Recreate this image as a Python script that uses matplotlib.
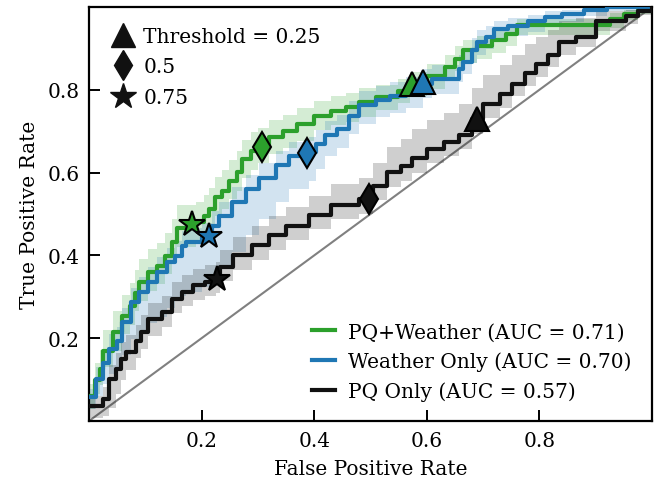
import numpy as np
import matplotlib
matplotlib.use("Agg")
import matplotlib.pyplot as plt
from matplotlib.lines import Line2D

# ROC curves (fpr, tpr vertices, drawn as steps)
green_fpr = [0.000, 0.010, 0.020, 0.025, 0.043, 0.058, 0.073, 0.082, 0.089, 0.105,
             0.121, 0.135, 0.148, 0.156, 0.190, 0.205, 0.213, 0.224, 0.236, 0.249,
             0.262, 0.272, 0.288, 0.300, 0.320, 0.345, 0.370, 0.400, 0.430, 0.456,
             0.480, 0.510, 0.549, 0.570, 0.600, 0.632, 0.650, 0.665, 0.690, 0.715,
             0.740, 0.760, 0.925, 0.950, 0.975, 1.000]
green_tpr = [0.060, 0.100, 0.126, 0.170, 0.215, 0.254, 0.278, 0.310, 0.336, 0.360,
             0.375, 0.399, 0.432, 0.466, 0.480, 0.495, 0.512, 0.540, 0.556, 0.580,
             0.601, 0.633, 0.652, 0.662, 0.686, 0.700, 0.717, 0.737, 0.749, 0.758,
             0.770, 0.782, 0.797, 0.814, 0.833, 0.855, 0.875, 0.895, 0.905, 0.920,
             0.935, 0.957, 0.970, 0.983, 0.993, 1.000]
green_lo = [0.030, 0.035, 0.040, 0.040, 0.045, 0.045, 0.045, 0.045, 0.045, 0.045,
            0.045, 0.045, 0.045, 0.045, 0.045, 0.045, 0.045, 0.045, 0.045, 0.045,
            0.045, 0.045, 0.045, 0.040, 0.040, 0.040, 0.040, 0.035, 0.035, 0.035,
            0.035, 0.030, 0.030, 0.030, 0.030, 0.030, 0.030, 0.030, 0.030, 0.030,
            0.030, 0.025, 0.020, 0.015, 0.010, 0.000]
green_hi = [0.030, 0.040, 0.045, 0.050, 0.050, 0.050, 0.055, 0.055, 0.055, 0.055,
            0.055, 0.055, 0.055, 0.055, 0.050, 0.050, 0.050, 0.050, 0.050, 0.050,
            0.050, 0.045, 0.045, 0.045, 0.040, 0.040, 0.040, 0.035, 0.035, 0.035,
            0.035, 0.030, 0.030, 0.030, 0.030, 0.030, 0.030, 0.025, 0.025, 0.025,
            0.020, 0.015, 0.015, 0.010, 0.005, 0.000]

blue_fpr = [0.000, 0.012, 0.025, 0.035, 0.050, 0.058, 0.075, 0.089, 0.105, 0.121,
            0.139, 0.153, 0.165, 0.172, 0.200, 0.218, 0.231, 0.254, 0.279, 0.302,
            0.332, 0.355, 0.390, 0.403, 0.420, 0.440, 0.462, 0.480, 0.510, 0.535,
            0.563, 0.593, 0.610, 0.657, 0.665, 0.680, 0.690, 0.705, 0.720, 0.745,
            0.780, 0.810, 0.840, 0.880, 0.920, 1.000]
blue_tpr = [0.058, 0.101, 0.140, 0.174, 0.193, 0.239, 0.287, 0.312, 0.336, 0.360,
            0.384, 0.399, 0.423, 0.432, 0.444, 0.471, 0.495, 0.529, 0.560, 0.587,
            0.618, 0.640, 0.650, 0.669, 0.690, 0.705, 0.737, 0.763, 0.775, 0.785,
            0.795, 0.815, 0.826, 0.850, 0.867, 0.895, 0.915, 0.928, 0.947, 0.954,
            0.965, 0.975, 0.983, 0.993, 1.000, 1.000]
blue_lo = [0.030, 0.040, 0.050, 0.060, 0.070, 0.080, 0.090, 0.100, 0.100, 0.110,
           0.110, 0.110, 0.120, 0.120, 0.120, 0.120, 0.120, 0.120, 0.110, 0.100,
           0.090, 0.080, 0.070, 0.060, 0.050, 0.045, 0.045, 0.045, 0.040, 0.040,
           0.040, 0.035, 0.035, 0.030, 0.030, 0.030, 0.030, 0.030, 0.030, 0.025,
           0.025, 0.020, 0.020, 0.015, 0.010, 0.000]
blue_hi = [0.020, 0.030, 0.030, 0.035, 0.035, 0.035, 0.035, 0.035, 0.035, 0.035,
           0.035, 0.035, 0.035, 0.035, 0.035, 0.035, 0.035, 0.035, 0.035, 0.035,
           0.035, 0.035, 0.035, 0.035, 0.035, 0.035, 0.035, 0.035, 0.035, 0.035,
           0.035, 0.035, 0.035, 0.035, 0.030, 0.030, 0.030, 0.025, 0.020, 0.020,
           0.015, 0.015, 0.010, 0.005, 0.000, 0.000]

black_fpr = [0.000, 0.024, 0.036, 0.048, 0.057, 0.066, 0.083, 0.092, 0.105, 0.130,
             0.147, 0.165, 0.185, 0.206, 0.225, 0.232, 0.255, 0.290, 0.320, 0.350,
             0.390, 0.430, 0.480, 0.505, 0.530, 0.555, 0.574, 0.600, 0.630, 0.657,
             0.680, 0.700, 0.730, 0.751, 0.775, 0.794, 0.815, 0.835, 0.865, 0.900,
             0.954, 0.975, 1.000]
black_tpr = [0.036, 0.053, 0.101, 0.125, 0.150, 0.167, 0.193, 0.215, 0.246, 0.263,
             0.295, 0.312, 0.328, 0.336, 0.345, 0.372, 0.400, 0.425, 0.449, 0.471,
             0.498, 0.522, 0.536, 0.568, 0.601, 0.615, 0.635, 0.657, 0.675, 0.691,
             0.729, 0.766, 0.790, 0.814, 0.840, 0.862, 0.885, 0.915, 0.928, 0.966,
             0.978, 0.990, 1.000]
black_lo = [0.030, 0.040, 0.070, 0.060, 0.050, 0.045, 0.040, 0.040, 0.040, 0.035,
            0.035, 0.035, 0.035, 0.035, 0.035, 0.035, 0.035, 0.035, 0.035, 0.035,
            0.035, 0.035, 0.035, 0.035, 0.035, 0.035, 0.035, 0.035, 0.035, 0.035,
            0.035, 0.035, 0.035, 0.030, 0.030, 0.030, 0.030, 0.030, 0.025, 0.025,
            0.020, 0.010, 0.000]
black_hi = [0.025, 0.030, 0.035, 0.040, 0.040, 0.040, 0.040, 0.040, 0.040, 0.040,
            0.040, 0.040, 0.040, 0.040, 0.040, 0.040, 0.045, 0.045, 0.045, 0.045,
            0.045, 0.050, 0.050, 0.055, 0.060, 0.065, 0.070, 0.070, 0.070, 0.075,
            0.075, 0.070, 0.070, 0.070, 0.070, 0.065, 0.060, 0.050, 0.045, 0.025,
            0.015, 0.010, 0.000]

# threshold markers: 0.25, 0.5, 0.75
thr_green_x = [0.574, 0.308, 0.183]
thr_green_y = [0.814, 0.662, 0.476]
thr_blue_x = [0.593, 0.387, 0.213]
thr_blue_y = [0.819, 0.647, 0.447]
thr_black_x = [0.689, 0.497, 0.227]
thr_black_y = [0.729, 0.536, 0.343]

labels = ["PQ+Weather (AUC = 0.71)", "Weather Only (AUC = 0.70)", "PQ Only (AUC = 0.57)"]
thr_labels = ["Threshold = 0.25", "0.5", "0.75"]

FS = 14.5
plt.rcParams['font.family'] = ['DejaVu Serif']
plt.rcParams['font.size'] = FS

fig = plt.figure(figsize=(6.56, 4.81), dpi=100)
ax = fig.add_axes([0.1357, 0.1227, 0.8582, 0.8607])

green = '#2ca02c'
blue = '#1f77b4'
black = '#111111'
markers = ['^', 'd', '*']
msizes = [17, 15, 19]

ax.plot([0, 1], [0, 1], color='#808080', lw=1.5, zorder=1)

curves = [
    (green_fpr, green_tpr, green_lo, green_hi, green, thr_green_x, thr_green_y),
    (blue_fpr, blue_tpr, blue_lo, blue_hi, blue, thr_blue_x, thr_blue_y),
    (black_fpr, black_tpr, black_lo, black_hi, black, thr_black_x, thr_black_y),
]

line_handles = []
for (fx, ty, lo, hi, col, mx, my), lab in zip(curves, labels):
    fx = np.array(fx)
    ty = np.array(ty)
    lower = np.clip(ty - np.array(lo), 0, 1)
    upper = np.clip(ty + np.array(hi), 0, 1)
    ax.fill_between(fx, lower, upper, step='post', color=col, alpha=0.2,
                    lw=0, zorder=2)
    h, = ax.plot(fx, ty, drawstyle='steps-post', color=col, lw=3,
                 label=lab, zorder=3)
    line_handles.append(h)

for (fx, ty, lo, hi, col, mx, my) in curves:
    for i in range(3):
        ax.plot(mx[i], my[i], marker=markers[i], ms=msizes[i], color=col,
                mec='black', mew=1.5, ls='none', zorder=5)

ax.set_xlim(0, 1)
ax.set_ylim(0, 1)
ax.set_xticks([0.2, 0.4, 0.6, 0.8])
ax.set_yticks([0.2, 0.4, 0.6, 0.8])
ax.tick_params(direction='in', length=8, width=1.4, labelsize=FS, pad=7)
for s in ax.spines.values():
    s.set_linewidth(1.6)
ax.set_xlabel('False Positive Rate', fontsize=FS, labelpad=7)
ax.set_ylabel('True Positive Rate', fontsize=FS, labelpad=6)

thr_handles = [Line2D([], [], marker=m, ms=s, color='#111111', ls='none')
               for m, s in zip(markers, msizes)]
leg1 = ax.legend(thr_handles, thr_labels, loc='upper left', frameon=False,
                 handlelength=1.4, handletextpad=0.3, labelspacing=0.56,
                 borderaxespad=0.6, fontsize=FS)
ax.add_artist(leg1)
ax.legend(handles=line_handles, loc='lower right', frameon=False,
          handlelength=1.15, handletextpad=0.65, labelspacing=0.5,
          borderaxespad=0.6, fontsize=FS)

fig.savefig('out.png', dpi=100)
